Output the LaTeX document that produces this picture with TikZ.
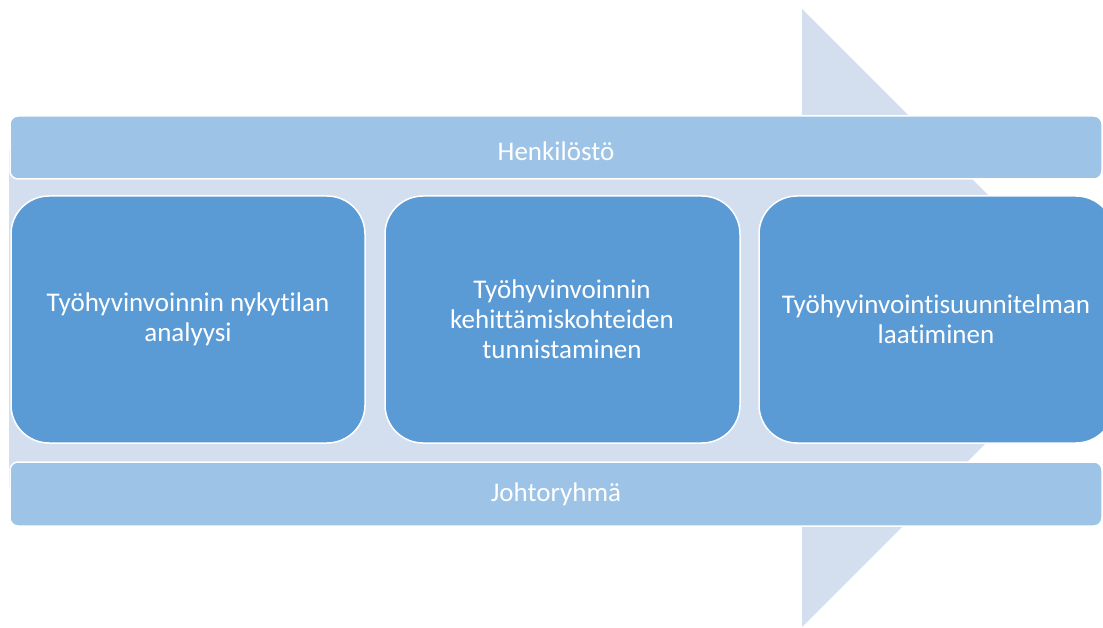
\documentclass[tikz,border=0pt]{standalone}
\usepackage{fontspec}
\setmainfont{Carlito}[Ligatures=NoCommon]
\definecolor{arrowfill}{HTML}{D3DEEF}
\definecolor{barfill}{HTML}{9DC3E6}
\definecolor{stepfill}{HTML}{5B9BD5}
\tikzset{
  bar/.style={draw=white, line width=1.5pt, fill=barfill, rounded corners=8pt},
  stagebox/.style={draw=white, line width=1.5pt, fill=stepfill, rounded corners=38pt},
  label/.style={text=white, font=\fontsize{27}{30}\selectfont, align=center},
}
\begin{document}
\begin{tikzpicture}[x=1pt, y=-1pt]
  \useasboundingbox (0,0) rectangle (1103,628);
  \clip (0,0) rectangle (1103,628);
  % background process arrow
  \fill[arrowfill] (9,150) -- (802,150) -- (802,9) -- (1111,318)
    -- (802,627) -- (802,487) -- (9,487) -- cycle;
  % top and bottom bands
  \draw[bar] (10,116) rectangle (1102,179);
  \node[label] (henk) at (556,151) {Henkilöstö};
  \draw[bar] (10,462) rectangle (1102,526);
  \node[label] (johto) at (556,494) {Johtoryhmä};
  % three stages
  \draw[stagebox] (11,196) rectangle (365,443);
  \node[label] (s1) at (188,319) {Työhyvinvoinnin nykytilan\\analyysi};
  \draw[stagebox] (385,196) rectangle (740,443);
  \node[label] (s2) at (562,319) {Työhyvinvoinnin\\kehittämiskohteiden\\tunnistaminen};
  \draw[stagebox] (759,196) rectangle (1114,443);
  \node[label] (s3) at (936,319) {Työhyvinvointisuunnitelman\\laatiminen};
\end{tikzpicture}
\end{document}
